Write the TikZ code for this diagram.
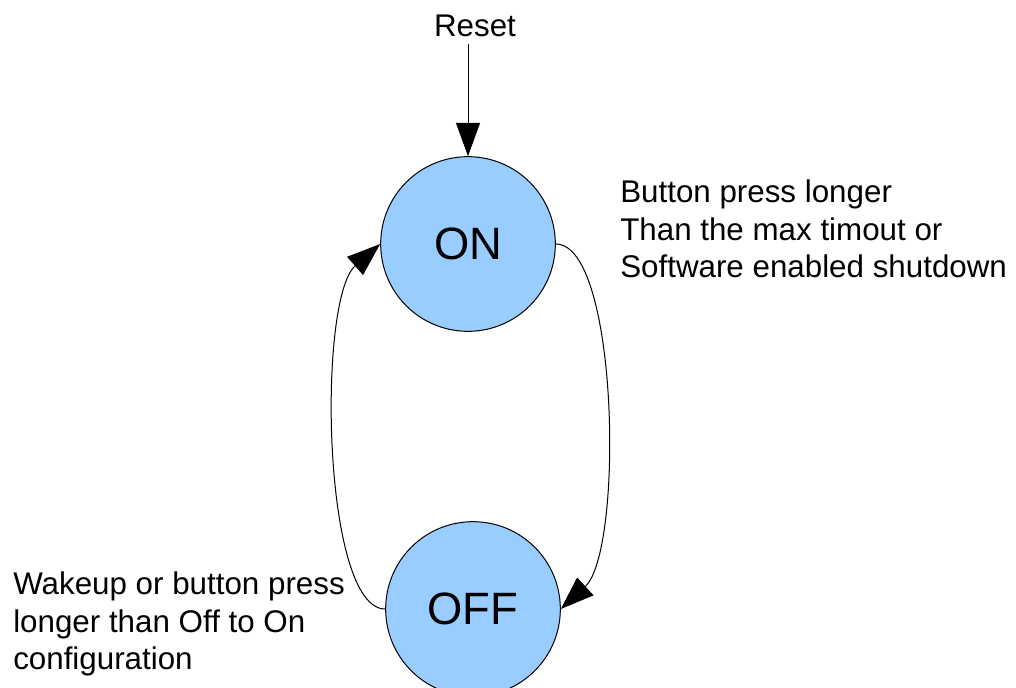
\documentclass[tikz,border=0pt]{standalone}
\usepackage{fontspec}
\setmainfont{Liberation Sans}
\usepackage{xcolor,tikz}
\usetikzlibrary{positioning,arrows.meta,calc}
\definecolor{ink}{HTML}{000000}
\definecolor{stateblue}{HTML}{99CCFF}

\begin{document}
\begin{tikzpicture}[
  x=0.75pt,y=-0.75pt,
  >={Triangle[length=25pt,width=18pt]},
  every node/.style={inner sep=0pt,align=left,font=\fontsize{23.5}{28}\selectfont},
  state/.style={circle,draw=ink,fill=stateblue,line width=0.75pt,minimum size=131pt,font=\fontsize{34}{40}\selectfont},
  edge/.style={->,draw=ink,line width=0.75pt}
]
\useasboundingbox (0,0) rectangle (1016,688);
\node[state] (on) at (468,244) {ON};
\node[state] (off) at (473,609) {OFF};
\node[anchor=base] (reset) at (475,37) {Reset};
\node[anchor=north west] (shutdown) at (620,180) {Button press longer\\Than the max timout or\\Software enabled shutdown};
\node[anchor=north west] (wakeup) at (13,572) {Wakeup or button press\\longer than Off to On\\configuration};
\draw[edge] ([yshift=-5pt]reset.south -| on.north) -- (on.north);
\draw[edge] (on.east) .. controls +(63,0) and +(63,-58) .. (off.east);
\draw[edge] (off.west) .. controls +(-63,0) and +(-63,55) .. (on.west);
\end{tikzpicture}
\end{document}
